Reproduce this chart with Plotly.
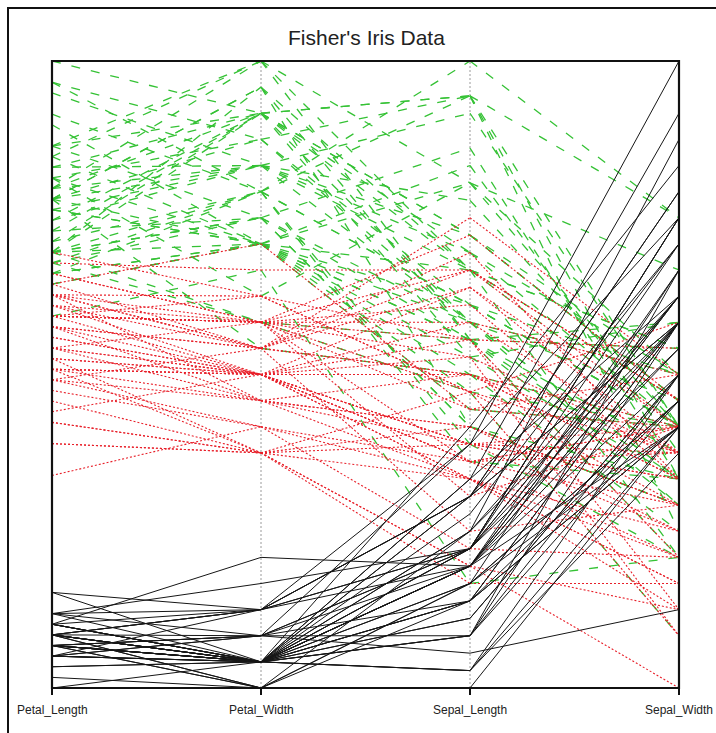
import plotly.graph_objects as go

# Fisher's Iris measurements (cm), in the usual dataset order
species_names = ["setosa", "versicolor", "virginica"]

sepal_length = [
    5.1, 4.9, 4.7, 4.6, 5.0, 5.4, 4.6, 5.0, 4.4, 4.9, 5.4, 4.8, 4.8, 4.3, 5.8, 5.7, 5.4, 5.1, 5.7, 5.1,
    5.4, 5.1, 4.6, 5.1, 4.8, 5.0, 5.0, 5.2, 5.2, 4.7, 4.8, 5.4, 5.2, 5.5, 4.9, 5.0, 5.5, 4.9, 4.4, 5.1,
    5.0, 4.5, 4.4, 5.0, 5.1, 4.8, 5.1, 4.6, 5.3, 5.0,
    7.0, 6.4, 6.9, 5.5, 6.5, 5.7, 6.3, 4.9, 6.6, 5.2, 5.0, 5.9, 6.0, 6.1, 5.6, 6.7, 5.6, 5.8, 6.2, 5.6,
    5.9, 6.1, 6.3, 6.1, 6.4, 6.6, 6.8, 6.7, 6.0, 5.7, 5.5, 5.5, 5.8, 6.0, 5.4, 6.0, 6.7, 6.3, 5.6, 5.5,
    5.5, 6.1, 5.8, 5.0, 5.6, 5.7, 5.7, 6.2, 5.1, 5.7,
    6.3, 5.8, 7.1, 6.3, 6.5, 7.6, 4.9, 7.3, 6.7, 7.2, 6.5, 6.4, 6.8, 5.7, 5.8, 6.4, 6.5, 7.7, 7.7, 6.0,
    6.9, 5.6, 7.7, 6.3, 6.7, 7.2, 6.2, 6.1, 6.4, 7.2, 7.4, 7.9, 6.4, 6.3, 6.1, 7.7, 6.3, 6.4, 6.0, 6.9,
    6.7, 6.9, 5.8, 6.8, 6.7, 6.7, 6.3, 6.5, 6.2, 5.9,
]
sepal_width = [
    3.5, 3.0, 3.2, 3.1, 3.6, 3.9, 3.4, 3.4, 2.9, 3.1, 3.7, 3.4, 3.0, 3.0, 4.0, 4.4, 3.9, 3.5, 3.8, 3.8,
    3.4, 3.7, 3.6, 3.3, 3.4, 3.0, 3.4, 3.5, 3.4, 3.2, 3.1, 3.4, 4.1, 4.2, 3.1, 3.2, 3.5, 3.6, 3.0, 3.4,
    3.5, 2.3, 3.2, 3.5, 3.8, 3.0, 3.8, 3.2, 3.7, 3.3,
    3.2, 3.2, 3.1, 2.3, 2.8, 2.8, 3.3, 2.4, 2.9, 2.7, 2.0, 3.0, 2.2, 2.9, 2.9, 3.1, 3.0, 2.7, 2.2, 2.5,
    3.2, 2.8, 2.5, 2.8, 2.9, 3.0, 2.8, 3.0, 2.9, 2.6, 2.4, 2.4, 2.7, 2.7, 3.0, 3.4, 3.1, 2.3, 3.0, 2.5,
    2.6, 3.0, 2.6, 2.3, 2.7, 3.0, 2.9, 2.9, 2.5, 2.8,
    3.3, 2.7, 3.0, 2.9, 3.0, 3.0, 2.5, 2.9, 2.5, 3.6, 3.2, 2.7, 3.0, 2.5, 2.8, 3.2, 3.0, 3.8, 2.6, 2.2,
    3.2, 2.8, 2.8, 2.7, 3.3, 3.2, 2.8, 3.0, 2.8, 3.0, 2.8, 3.8, 2.8, 2.8, 2.6, 3.0, 3.4, 3.1, 3.0, 3.1,
    3.1, 3.1, 2.7, 3.2, 3.3, 3.0, 2.5, 3.0, 3.4, 3.0,
]
petal_length = [
    1.4, 1.4, 1.3, 1.5, 1.4, 1.7, 1.4, 1.5, 1.4, 1.5, 1.5, 1.6, 1.4, 1.1, 1.2, 1.5, 1.3, 1.4, 1.7, 1.5,
    1.7, 1.5, 1.0, 1.7, 1.9, 1.6, 1.6, 1.5, 1.4, 1.6, 1.6, 1.5, 1.5, 1.4, 1.5, 1.2, 1.3, 1.4, 1.3, 1.5,
    1.3, 1.3, 1.3, 1.6, 1.9, 1.4, 1.6, 1.4, 1.5, 1.4,
    4.7, 4.5, 4.9, 4.0, 4.6, 4.5, 4.7, 3.3, 4.6, 3.9, 3.5, 4.2, 4.0, 4.7, 3.6, 4.4, 4.5, 4.1, 4.5, 3.9,
    4.8, 4.0, 4.9, 4.7, 4.3, 4.4, 4.8, 5.0, 4.5, 3.5, 3.8, 3.7, 3.9, 5.1, 4.5, 4.5, 4.7, 4.4, 4.1, 4.0,
    4.4, 4.6, 4.0, 3.3, 4.2, 4.2, 4.2, 4.3, 3.0, 4.1,
    6.0, 5.1, 5.9, 5.6, 5.8, 6.6, 4.5, 6.3, 5.8, 6.1, 5.1, 5.3, 5.5, 5.0, 5.1, 5.3, 5.5, 6.7, 6.9, 5.0,
    5.7, 4.9, 6.7, 4.9, 5.7, 6.0, 4.8, 4.9, 5.6, 5.8, 6.1, 6.4, 5.6, 5.1, 5.6, 6.1, 5.6, 5.5, 4.8, 5.4,
    5.6, 5.1, 5.1, 5.9, 5.7, 5.2, 5.0, 5.2, 5.4, 5.1,
]
petal_width = [
    0.2, 0.2, 0.2, 0.2, 0.2, 0.4, 0.3, 0.2, 0.2, 0.1, 0.2, 0.2, 0.1, 0.1, 0.2, 0.4, 0.4, 0.3, 0.3, 0.3,
    0.2, 0.4, 0.2, 0.5, 0.2, 0.2, 0.4, 0.2, 0.2, 0.2, 0.2, 0.4, 0.1, 0.2, 0.2, 0.2, 0.2, 0.1, 0.2, 0.2,
    0.3, 0.3, 0.2, 0.6, 0.4, 0.3, 0.2, 0.2, 0.2, 0.2,
    1.4, 1.5, 1.5, 1.3, 1.5, 1.3, 1.6, 1.0, 1.3, 1.4, 1.0, 1.5, 1.0, 1.4, 1.3, 1.4, 1.5, 1.0, 1.5, 1.1,
    1.8, 1.3, 1.5, 1.2, 1.3, 1.4, 1.4, 1.7, 1.5, 1.0, 1.1, 1.0, 1.2, 1.6, 1.5, 1.6, 1.5, 1.3, 1.3, 1.3,
    1.2, 1.4, 1.2, 1.0, 1.3, 1.2, 1.3, 1.3, 1.1, 1.3,
    2.5, 1.9, 2.1, 1.8, 2.2, 2.1, 1.7, 1.8, 1.8, 2.5, 2.0, 1.9, 2.1, 2.0, 2.4, 2.3, 1.8, 2.2, 2.3, 1.5,
    2.3, 2.0, 2.0, 1.8, 2.1, 1.8, 1.8, 1.8, 2.1, 1.6, 1.9, 2.0, 2.2, 1.5, 1.4, 2.3, 2.4, 1.8, 1.8, 2.1,
    2.4, 2.3, 1.9, 2.3, 2.5, 2.3, 1.9, 2.0, 2.3, 1.8,
]
species = [name for name in species_names for _ in range(50)]

axis_labels = ["Petal_Length", "Petal_Width", "Sepal_Length", "Sepal_Width"]
columns = [petal_length, petal_width, sepal_length, sepal_width]

# each variable is rescaled to its own [min, max] so all axes share 0..1
scaled = []
for col in columns:
    lo, hi = min(col), max(col)
    scaled.append([(v - lo) / (hi - lo) for v in col])

styles = {
    "virginica": dict(color="#35c235", width=1.3, dash="9px,11px"),
    "versicolor": dict(color="#e8202a", width=1.1, dash="2px,2px"),
    "setosa": dict(color="#161616", width=1.0, dash="solid"),
}

W, H = 716, 733
x0, x1 = 52, 679      # plot area, pixels
y0, y1 = 61, 688

fig = go.Figure()
for name in ["virginica", "versicolor", "setosa"]:
    rows = [i for i, sp in enumerate(species) if sp == name]
    if styles[name]["dash"] == "solid":
        # solid lines: one trace, polylines separated by gaps
        xs, ys = [], []
        for i in rows:
            for k in range(len(columns)):
                xs.append(k)
                ys.append(scaled[k][i])
            xs.append(None)
            ys.append(None)
        fig.add_trace(go.Scatter(x=xs, y=ys, mode="lines", line=styles[name],
                                 hoverinfo="skip", showlegend=False))
    else:
        # patterned lines: each segment its own path so the pattern starts at every axis
        for k in range(len(columns) - 1):
            for i in rows:
                fig.add_trace(go.Scatter(
                    x=[k, k + 1], y=[scaled[k][i], scaled[k + 1][i]], mode="lines",
                    line=styles[name], hoverinfo="skip", showlegend=False,
                ))

shapes = []
# dotted guides for the inner axes
for k in range(1, len(columns) - 1):
    shapes.append(dict(type="line", xref="x", yref="y", x0=k, x1=k, y0=0, y1=1,
                       line=dict(color="#9a9a9a", width=1, dash="2px,2px"), layer="below"))
# plot frame
shapes.append(dict(type="rect", xref="paper", yref="paper",
                   x0=x0 / W, x1=x1 / W, y0=1 - y1 / H, y1=1 - y0 / H,
                   line=dict(color="#111111", width=2.2)))
# outer page border
shapes.append(dict(type="rect", xref="paper", yref="paper",
                   x0=8 / W, x1=740 / W, y0=-20 / H, y1=1 - 8 / H,
                   line=dict(color="#111111", width=2)))

annotations = [dict(
    text="Fisher's Iris Data", xref="paper", yref="paper",
    x=366 / W, y=1 - 38 / H, xanchor="center", yanchor="middle", showarrow=False,
    font=dict(family="Liberation Sans, Arial, sans-serif", size=21, color="#222222"),
)]
for k, lab in enumerate(axis_labels):
    annotations.append(dict(
        text=lab, xref="x", yref="paper", x=k, y=1 - 710 / H,
        xanchor="center", yanchor="middle", showarrow=False,
        font=dict(family="Liberation Sans, Arial, sans-serif", size=12, color="#222222"),
    ))

fig.update_layout(
    width=W, height=H,
    margin=dict(l=0, r=0, t=0, b=0),
    paper_bgcolor="white", plot_bgcolor="white",
    xaxis=dict(domain=[x0 / W, x1 / W], range=[0, 3], showgrid=False, zeroline=False,
               tickvals=[0, 1, 2, 3], ticktext=["", "", "", ""], ticks="outside",
               ticklen=6, tickwidth=1.5, tickcolor="#111111", showline=False),
    yaxis=dict(domain=[1 - y1 / H, 1 - y0 / H], range=[0, 1], showgrid=False,
               zeroline=False, showticklabels=False, ticks="", showline=False),
    shapes=shapes,
    annotations=annotations,
)

fig.write_html("out.html")
